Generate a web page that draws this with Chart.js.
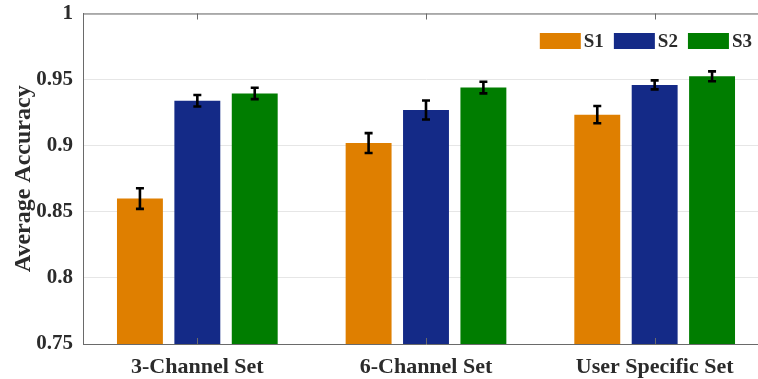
<!DOCTYPE html>
<html>
<head>
<meta charset="utf-8">
<script src="https://cdn.jsdelivr.net/npm/chart.js@4/dist/chart.umd.min.js"></script>
<style>
  html, body { margin: 0; padding: 0; background: #fff; overflow: hidden; }
  #wrap { position: relative; width: 790px; height: 379px; }
</style>
</head>
<body>
<div id="wrap"><canvas id="chart" width="790" height="379"></canvas></div>
<script>
// Mean accuracy per channel set, with error bar half-lengths
const categories = ['3-Channel Set', '6-Channel Set', 'User Specific Set'];
const seriesNames = ['S1', 'S2', 'S3'];
const s1Values = [0.860, 0.902, 0.9235];
const s2Values = [0.934, 0.927, 0.946];
const s3Values = [0.9395, 0.944, 0.9525];
const s1Errors = [0.0078, 0.0075, 0.0065];
const s2Errors = [0.0044, 0.0072, 0.0034];
const s3Errors = [0.0043, 0.0044, 0.0037];
const yTickLabels = ['0.75', '0.8', '0.85', '0.9', '0.95', '1'];
const seriesColors = ['#df7f00', '#142a87', '#007d00'];

const seriesValues = [s1Values, s2Values, s3Values];
const seriesErrors = [s1Errors, s2Errors, s3Errors];

const FONT = "'Liberation Serif', 'Times New Roman', serif";
const AXIS_COLOR = '#6a6a6a';
const TEXT_COLOR = '#2b2b2b';

// Error bars with caps, centred on each bar
const errorBars = {
  id: 'errorBars',
  afterDatasetsDraw(chart) {
    const ctx = chart.ctx;
    const y = chart.scales.y;
    ctx.save();
    ctx.strokeStyle = '#000';
    ctx.lineWidth = 2.6;
    chart.data.datasets.forEach((ds, i) => {
      const meta = chart.getDatasetMeta(i);
      meta.data.forEach((bar, j) => {
        const v = ds.data[j];
        const e = seriesErrors[i][j];
        const top = y.getPixelForValue(v + e);
        const bot = y.getPixelForValue(v - e);
        const cx = bar.x;
        const cap = 4;
        ctx.beginPath();
        ctx.moveTo(cx, top); ctx.lineTo(cx, bot);
        ctx.moveTo(cx - cap, top); ctx.lineTo(cx + cap, top);
        ctx.moveTo(cx - cap, bot); ctx.lineTo(cx + cap, bot);
        ctx.stroke();
      });
    });
    ctx.restore();
  }
};

// Box frame (top/right edges) and inward category tick marks
const frame = {
  id: 'frame',
  afterDraw(chart) {
    const ctx = chart.ctx;
    const a = chart.chartArea;
    const x = chart.scales.x;
    ctx.save();
    ctx.strokeStyle = AXIS_COLOR;
    ctx.lineWidth = 1;
    ctx.beginPath();
    ctx.moveTo(a.left, a.top + 0.5); ctx.lineTo(a.right, a.top + 0.5);
    ctx.moveTo(a.right - 0.5, a.top); ctx.lineTo(a.right - 0.5, a.bottom);
    for (let k = 0; k < categories.length; k++) {
      const px = Math.round(x.getPixelForTick(k)) + 0.5;
      ctx.moveTo(px, a.bottom); ctx.lineTo(px, a.bottom - 6);
      ctx.moveTo(px, a.top); ctx.lineTo(px, a.top + 6);
    }
    ctx.stroke();
    ctx.restore();
  }
};

// Legend drawn inside the plot, top-right
const insideLegend = {
  id: 'insideLegend',
  afterDraw(chart) {
    const ctx = chart.ctx;
    const a = chart.chartArea;
    const boxW = 41, boxH = 16, gap = 3, itemGap = 10;
    const cy = a.top + 27.5;
    ctx.save();
    ctx.font = 'bold 19px ' + FONT;
    ctx.textBaseline = 'middle';
    ctx.fillStyle = TEXT_COLOR;
    let xr = a.right - 17;
    for (let i = chart.data.datasets.length - 1; i >= 0; i--) {
      const ds = chart.data.datasets[i];
      const w = ctx.measureText(ds.label).width;
      const tx = xr - w;
      const bx = tx - gap - boxW;
      ctx.fillStyle = ds.backgroundColor;
      ctx.fillRect(bx, cy - boxH / 2, boxW, boxH);
      ctx.fillStyle = TEXT_COLOR;
      ctx.textAlign = 'left';
      ctx.fillText(ds.label, tx, cy + 1);
      xr = bx - itemGap;
    }
    ctx.restore();
  }
};

new Chart(document.getElementById('chart'), {
  type: 'bar',
  data: {
    labels: categories,
    datasets: seriesNames.map((name, i) => ({
      label: name,
      data: seriesValues[i],
      backgroundColor: seriesColors[i],
      borderWidth: 0,
      categoryPercentage: 0.753,
      barPercentage: 0.8
    }))
  },
  options: {
    responsive: false,
    animation: false,
    devicePixelRatio: 1,
    layout: { padding: { left: 0, top: 13.5, right: 21, bottom: 0 } },
    plugins: {
      legend: { display: false },
      tooltip: { enabled: false }
    },
    scales: {
      x: {
        grid: { display: false, drawTicks: false },
        border: { display: true, color: AXIS_COLOR, width: 1 },
        ticks: {
          color: TEXT_COLOR,
          font: { family: FONT, size: 22, weight: 'bold' },
          padding: 10,
          maxRotation: 0
        },
        afterFit(scale) {
          scale.height = 35;
          scale.paddingLeft = 0; scale.paddingRight = 0;
        }
      },
      y: {
        min: 0.75,
        max: 1,
        grid: { color: '#e6e6e6', drawTicks: false },
        border: { display: true, color: AXIS_COLOR, width: 1 },
        ticks: {
          stepSize: 0.05,
          color: TEXT_COLOR,
          font: { family: FONT, size: 21, weight: 'bold' },
          padding: 10,
          callback: (v, i) => yTickLabels[i]
        },
        title: {
          display: true,
          text: 'Average Accuracy',
          color: TEXT_COLOR,
          font: { family: FONT, size: 24, weight: 'bold' },
          padding: { top: 9, bottom: 0 }
        },
        afterFit(scale) {
          scale.width = 83;
          scale.paddingTop = 0; scale.paddingBottom = 0;
        }
      }
    }
  },
  plugins: [errorBars, frame, insideLegend]
});
</script>
</body>
</html>
